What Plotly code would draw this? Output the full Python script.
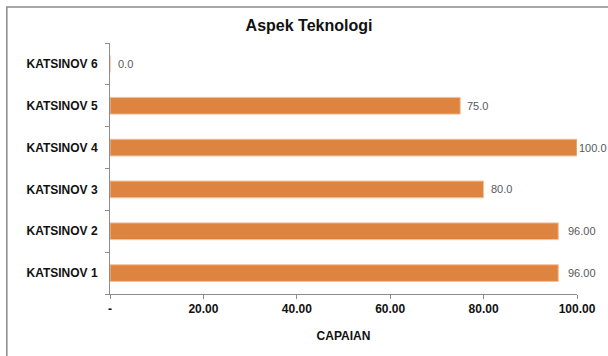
import plotly.graph_objects as go

# Capaian per level KATSINOV (aspek teknologi)
categories = ["KATSINOV 1", "KATSINOV 2", "KATSINOV 3", "KATSINOV 4", "KATSINOV 5", "KATSINOV 6"]
values = [96, 96, 80, 100, 75, 0]
value_labels = ["96.00", "96.00", "80.0", "100.0", "75.0", "0.0"]

x_tick_values = [0, 20, 40, 60, 80, 100]
x_tick_labels = ["-", "20.00", "40.00", "60.00", "80.00", "100.00"]

BAR_COLOR = "#DD8440"
AXIS_COLOR = "#8C8C8C"
FONT = "Liberation Sans, Arial, sans-serif"

# plot area in pixels
W, H = 608, 356
L, R, T, B = 110, 25, 43, 62
pw, ph = W - L - R, H - T - B

fig = go.Figure()
fig.add_trace(go.Bar(
    x=values,
    y=categories,
    orientation="h",
    marker=dict(color=BAR_COLOR, line=dict(color="#F2C39C", width=1)),
    width=0.4,
    hoverinfo="skip",
))

# value labels to the right of each bar
label_shifts = [8, 8, 5, 0, 5, 6]
for cat, val, txt, dx in zip(categories, values, value_labels, label_shifts):
    fig.add_annotation(
        x=val, y=cat, text=txt, showarrow=False,
        xanchor="left", yanchor="middle", xshift=dx,
        font=dict(family=FONT, size=11, color="#595959"),
    )

# outer chart border
fig.add_shape(
    type="rect", xref="paper", yref="paper",
    x0=(5.5 - L) / pw, x1=(W + 10 - L) / pw,
    y0=(T + ph - (H + 10)) / ph, y1=(T + ph - 7) / ph,
    line=dict(color="#8A8A8A", width=1.5), fillcolor="rgba(0,0,0,0)",
    layer="below",
)

fig.update_layout(
    width=W, height=H,
    margin=dict(l=L, r=R, t=T, b=B, pad=0),
    paper_bgcolor="white", plot_bgcolor="white",
    showlegend=False,
    title=dict(
        text="<b>Aspek Teknologi</b>",
        x=309 / W, xanchor="center", y=1 - 25 / H, yanchor="middle",
        font=dict(family=FONT, size=16, color="#111111"),
    ),
    font=dict(family=FONT, color="#111111"),
)

fig.update_xaxes(
    range=[0, 100], tickvals=x_tick_values, ticktext=x_tick_labels,
    showgrid=False, zeroline=False,
    showline=True, linecolor=AXIS_COLOR, linewidth=1,
    ticks="outside", ticklen=4, tickcolor=AXIS_COLOR,
    tickfont=dict(family=FONT, size=12, color="#111111", weight="bold"),
    title=dict(text="<b>CAPAIAN</b>", font=dict(family=FONT, size=12, color="#111111"), standoff=16),
)

fig.update_yaxes(
    categoryorder="array", categoryarray=categories,
    range=[-0.5, 5.5],
    showgrid=False, zeroline=False,
    showline=True, linecolor=AXIS_COLOR, linewidth=1,
    ticks="outside", ticklen=4, tickcolor=AXIS_COLOR, tickson="boundaries",
    ticklabelstandoff=9,
    tickfont=dict(family=FONT, size=12, color="#111111", weight="bold"),
)

fig.write_html("out.html")
